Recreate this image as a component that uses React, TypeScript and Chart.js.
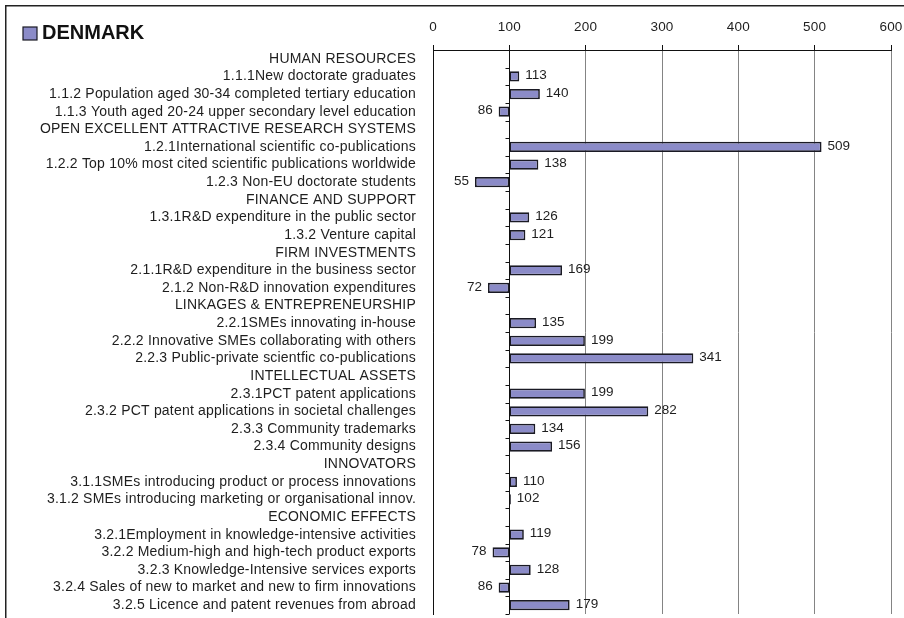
import React, { useEffect, useRef } from 'react';
import { Chart, registerables } from 'chart.js';

Chart.register(...registerables);

const countryName = 'DENMARK';

const categories: string[] = [
  'HUMAN RESOURCES',
  '1.1.1New doctorate graduates',
  '1.1.2 Population aged 30-34 completed tertiary education',
  '1.1.3 Youth aged 20-24 upper secondary level education',
  'OPEN EXCELLENT ATTRACTIVE RESEARCH SYSTEMS',
  '1.2.1International scientific co-publications',
  '1.2.2 Top 10% most cited scientific publications worldwide',
  '1.2.3 Non-EU doctorate students',
  'FINANCE AND SUPPORT',
  '1.3.1R&D expenditure in the public sector',
  '1.3.2 Venture capital',
  'FIRM INVESTMENTS',
  '2.1.1R&D expenditure in the business sector',
  '2.1.2 Non-R&D innovation expenditures',
  'LINKAGES & ENTREPRENEURSHIP',
  '2.2.1SMEs innovating in-house',
  '2.2.2 Innovative SMEs collaborating with others',
  '2.2.3 Public-private scientfic co-publications',
  'INTELLECTUAL ASSETS',
  '2.3.1PCT patent applications',
  '2.3.2 PCT patent applications in societal challenges',
  '2.3.3 Community trademarks',
  '2.3.4 Community designs',
  'INNOVATORS',
  '3.1.1SMEs introducing product or process innovations',
  '3.1.2 SMEs introducing marketing or organisational innov.',
  'ECONOMIC EFFECTS',
  '3.2.1Employment in knowledge-intensive activities',
  '3.2.2 Medium-high and high-tech product exports',
  '3.2.3 Knowledge-Intensive services exports',
  '3.2.4 Sales of new to market and new to firm innovations',
  '3.2.5 Licence and patent revenues from abroad',
];

const values: (number | null)[] = [
  null, 113, 140, 86,
  null, 509, 138, 55,
  null, 126, 121,
  null, 169, 72,
  null, 135, 199, 341,
  null, 199, 282, 134, 156,
  null, 110, 102,
  null, 119, 78, 128, 86, 179,
];

const baseValue = 100;
const xMin = 0;
const xMax = 600;
const xStep = 100;

const FONT = "'Liberation Sans', Arial, sans-serif";
const TEXT = '#1e1e1e';
const BAR_FILL = '#8b8bc8';
const BAR_EDGE = '#1a1a24';

const framePlugin = {
  id: 'frame',
  beforeDraw(chart: any) {
    const ctx = chart.ctx;
    ctx.save();
    ctx.fillStyle = '#ffffff';
    ctx.fillRect(0, 0, chart.width, chart.height);
    ctx.strokeStyle = '#222';
    ctx.lineWidth = 1.5;
    ctx.beginPath();
    ctx.moveTo(chart.width, 5.75);
    ctx.lineTo(5.75, 5.75);
    ctx.lineTo(5.75, chart.height);
    ctx.stroke();
    ctx.restore();
    (ctx as any).letterSpacing = '0.2px';
  },
  beforeDatasetsDraw(chart: any) {
    (chart.ctx as any).letterSpacing = '0px';
  },
};

const baseAxisPlugin = {
  id: 'baseAxis',
  afterDatasetsDraw(chart: any) {
    const { ctx, chartArea } = chart;
    const xs = chart.scales.x;
    const ys = chart.scales.y;
    const x = Math.round(xs.getPixelForValue(baseValue)) + 0.5;
    ctx.save();
    ctx.strokeStyle = '#111';
    ctx.lineWidth = 1;
    ctx.beginPath();
    ctx.moveTo(x, chartArea.top);
    ctx.lineTo(x, chartArea.bottom);
    for (let i = 0; i <= categories.length; i++) {
      const y = Math.round(ys.getPixelForValue(i - 0.5)) + 0.5;
      ctx.moveTo(x - 4, y);
      ctx.lineTo(x, y);
    }
    ctx.stroke();
    ctx.restore();
  },
};

const valueLabelPlugin = {
  id: 'valueLabels',
  afterDatasetsDraw(chart: any) {
    const ctx = chart.ctx;
    const xs = chart.scales.x;
    const meta = chart.getDatasetMeta(0);
    ctx.save();
    ctx.font = `13.5px ${FONT}`;
    ctx.fillStyle = TEXT;
    ctx.textBaseline = 'middle';
    meta.data.forEach((el: any, i: number) => {
      const v = values[i];
      if (v == null) return;
      const above = v >= baseValue;
      const px = xs.getPixelForValue(v);
      ctx.textAlign = above ? 'left' : 'right';
      ctx.fillText(String(v), px + (above ? 6 : -6), el.y - 1);
    });
    ctx.restore();
  },
};

const titlePlugin = {
  id: 'titleKey',
  afterDraw(chart: any) {
    const ctx = chart.ctx;
    ctx.save();
    ctx.fillStyle = BAR_FILL;
    ctx.strokeStyle = BAR_EDGE;
    ctx.lineWidth = 1.2;
    ctx.fillRect(23, 27, 14, 13);
    ctx.strokeRect(23, 27, 14, 13);
    ctx.fillStyle = '#111';
    ctx.font = `bold 20px ${FONT}`;
    ctx.textAlign = 'left';
    ctx.textBaseline = 'middle';
    ctx.fillText(chart.data.datasets[0].label, 42, 33);
    ctx.restore();
  },
};

export default function App() {
  const canvasRef = useRef<HTMLCanvasElement | null>(null);

  useEffect(() => {
    document.body.style.margin = '0';
    const canvas = canvasRef.current;
    if (!canvas) return;
    const chart = new Chart(canvas, {
      type: 'bar',
      data: {
        labels: categories,
        datasets: [
          {
            label: countryName,
            data: values.map((v) => (v == null ? null : [baseValue, v])) as any,
            backgroundColor: BAR_FILL,
            borderColor: BAR_EDGE,
            borderWidth: 1.7,
            borderSkipped: false,
            categoryPercentage: 1,
            barPercentage: 0.58,
          },
        ],
      },
      options: {
        indexAxis: 'y',
        animation: false,
        responsive: false,
        maintainAspectRatio: false,
        events: [],
        layout: { padding: { top: 0, left: 0, right: 13, bottom: 4 } },
        plugins: {
          legend: { display: false },
          tooltip: { enabled: false },
          title: { display: false },
        },
        scales: {
          x: {
            type: 'linear',
            position: 'top',
            min: xMin,
            max: xMax,
            ticks: {
              stepSize: xStep,
              font: { family: FONT, size: 13.5 },
              color: TEXT,
              padding: 10,
            },
            grid: {
              color: (c: any) =>
                c.tick && (c.tick.value === xMin || c.tick.value === baseValue) ? '#111' : '#848484',
              lineWidth: 1,
              tickLength: 5,
              tickColor: '#111',
              drawTicks: true,
            },
            border: { display: true, color: '#111', width: 1 },
            afterFit: (scale: any) => {
              scale.height = 50;
              scale.paddingLeft = 0;
              scale.paddingRight = 0;
              scale.paddingTop = 0;
              scale.paddingBottom = 0;
            },
          },
          y: {
            type: 'category',
            position: 'left',
            offset: true,
            ticks: {
              font: { family: FONT, size: 14 },
              color: TEXT,
              padding: 17,
              autoSkip: false,
            },
            grid: { display: true, drawOnChartArea: false, drawTicks: false },
            border: { display: true, color: '#111', width: 1 },
            afterFit: (scale: any) => {
              scale.width = 433;
              scale.paddingLeft = 0;
              scale.paddingRight = 0;
              scale.paddingTop = 0;
              scale.paddingBottom = 0;
            },
          },
        },
      },
      plugins: [framePlugin, baseAxisPlugin, valueLabelPlugin, titlePlugin],
    } as any);
    return () => chart.destroy();
  }, []);

  return (
    <div style={{ position: 'fixed', left: 0, top: 0, width: 904, height: 618, background: '#fff' }}>
      <canvas ref={canvasRef} width={904} height={618} style={{ display: 'block', width: 904, height: 618 }} />
    </div>
  );
}
